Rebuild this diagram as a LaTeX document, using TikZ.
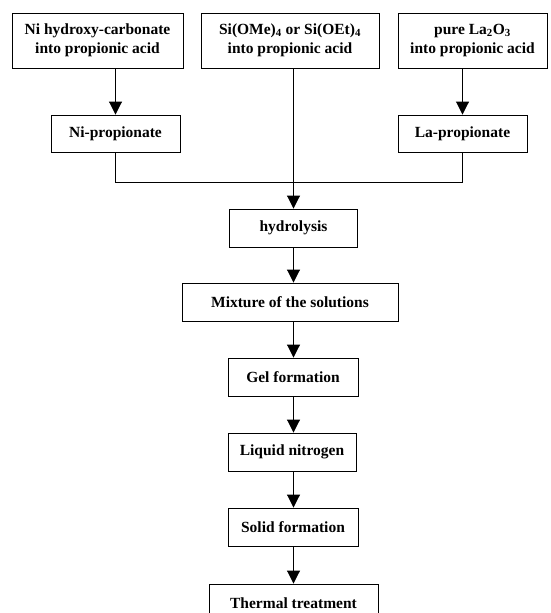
\documentclass[tikz,border=0pt]{standalone}
\usepackage{fontspec}
\setmainfont{Liberation Serif}
\usetikzlibrary{arrows.meta}
\begin{document}
\begin{tikzpicture}[x=1pt,y=-1pt,
  box/.style={draw, line width=0.9pt, inner sep=0pt, align=center, font=\fontsize{15.5}{19}\selectfont\bfseries},
  arr/.style={line width=0.9pt, -{Triangle[width=13pt,length=13pt]}},
  ln/.style={line width=0.9pt}]
\useasboundingbox (0,0) rectangle (550,613);
\clip (0,0) rectangle (550,613);
\node[box, minimum width=171pt, minimum height=55pt] (a) at (97.5,40.5) {Ni hydroxy-carbonate\\into propionic acid};
\node[box, minimum width=178pt, minimum height=55pt] (b) at (290,40.5) {Si(OMe)\textsubscript{4} or Si(OEt)\textsubscript{4}\\into propionic acid};
\node[box, minimum width=149pt, minimum height=55pt] (c) at (472.5,40.5) {pure La\textsubscript{2}O\textsubscript{3}\\into propionic acid};
\node[box, minimum width=129pt, minimum height=37pt] (np) at (115.5,133.5) {Ni-propionate};
\node[box, minimum width=129pt, minimum height=37pt] (lp) at (462.5,133.5) {La-propionate};
\node[box, minimum width=128pt, minimum height=38pt] (hy) at (293.5,228) {hydrolysis};
\node[box, minimum width=216pt, minimum height=38pt] (mx) at (290,302) {Mixture of the solutions};
\node[box, minimum width=130pt, minimum height=38pt] (gel) at (293,377) {Gel formation};
\node[box, minimum width=128pt, minimum height=38pt] (liq) at (292,452) {Liquid nitrogen};
\node[box, minimum width=130pt, minimum height=38pt] (sol) at (293,527) {Solid formation};
\node[box, minimum width=169pt, minimum height=38pt] (th) at (293.5,603) {Thermal treatment};
\coordinate (j) at (293.5,182);
\draw[arr] (np.north |- a.south) -- (np.north);
\draw[arr] (lp.north |- c.south) -- (lp.north);
\draw[arr] (hy.north |- b.south) -- (hy.north);
\draw[ln] (np.south) -- (np.south |- j) -- (lp.south |- j) -- (lp.south);
\draw[arr] (hy.south) -- (hy.south |- mx.north);
\draw[arr] (hy.south |- mx.south) -- (hy.south |- gel.north);
\draw[arr] (hy.south |- gel.south) -- (hy.south |- liq.north);
\draw[arr] (hy.south |- liq.south) -- (hy.south |- sol.north);
\draw[arr] (hy.south |- sol.south) -- (hy.south |- th.north);
\end{tikzpicture}
\end{document}
